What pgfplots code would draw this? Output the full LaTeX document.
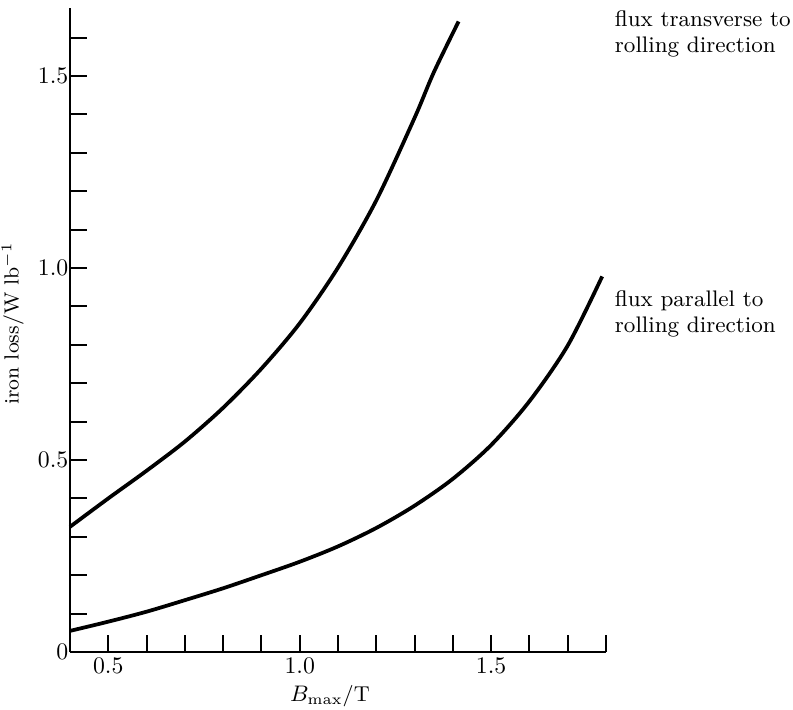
\documentclass[border=0pt]{standalone}
\usepackage{pgfplots}
\pgfplotsset{compat=1.18}
\begin{document}
\begin{tikzpicture}[x=1pt,y=1pt]
\path[use as bounding box] (-28pt,-22.8pt) rectangle (289.2pt,260.8pt);
\begin{axis}[
  at={(0,0)}, anchor=south west,
  scale only axis,
  width=214.4pt, height=257.6pt,
  xmin=0.4, xmax=1.8, ymin=0, ymax=1.677,
  axis x line*=bottom, axis y line*=left,
  axis line style={line width=1.1pt,-},
  tick style={line width=0.8pt,black},
  tick align=inside,
  major tick length=6.8pt, minor tick length=6.8pt,
  xtick={0.5,1.0,1.5},
  xticklabels={0.5,1.0,1.5},
  minor xtick={0.6,0.7,0.8,0.9,1.1,1.2,1.3,1.4,1.6,1.7,1.8},
  ytick={0,0.5,1.0,1.5},
  yticklabels={0,0.5,1.0,1.5},
  minor ytick={0.1,0.2,0.3,0.4,0.6,0.7,0.8,0.9,1.1,1.2,1.3,1.4,1.6},
  tick label style={font=\fontsize{9.5}{11}\selectfont},
  xticklabel style={inner sep=1pt, yshift=-1pt},
  yticklabel style={inner sep=0.5pt},
  xlabel={$B_{\max}$/T},
  ylabel={iron loss/W lb$^{-1}$},
  x label style={font=\fontsize{8.6}{11}\selectfont, at={(axis description cs:0.485,0)}, anchor=north, yshift=-10pt},
  y label style={font=\fontsize{8.2}{10}\selectfont, at={(axis description cs:0,0.51)}, anchor=south, yshift=15pt},
  clip=false,
]
\addplot[black, line width=1.5pt, smooth] coordinates {
 (0.40,0.326) (0.50,0.400) (0.60,0.472) (0.70,0.548) (0.80,0.636)
 (0.90,0.738) (1.00,0.856) (1.10,1.001) (1.20,1.176) (1.30,1.391)
 (1.35,1.509) (1.415,1.642)
};
\addplot[black, line width=1.5pt, smooth] coordinates {
 (0.40,0.055) (0.50,0.079) (0.60,0.105) (0.70,0.135) (0.80,0.166)
 (0.90,0.200) (1.00,0.235) (1.10,0.275) (1.20,0.323) (1.30,0.381)
 (1.40,0.451) (1.50,0.539) (1.60,0.653) (1.70,0.798) (1.79,0.978)
};
\node[anchor=base west, inner sep=0pt, font=\fontsize{9}{11}\selectfont] at (axis cs:1.822,1.628) {flux transverse to};
\node[anchor=base west, inner sep=0pt, font=\fontsize{9}{11}\selectfont] at (axis cs:1.822,1.560) {rolling direction};
\node[anchor=base west, inner sep=0pt, font=\fontsize{9}{11}\selectfont] at (axis cs:1.822,0.901) {flux parallel to};
\node[anchor=base west, inner sep=0pt, font=\fontsize{9}{11}\selectfont] at (axis cs:1.822,0.833) {rolling direction};
\end{axis}
\end{tikzpicture}
\end{document}
